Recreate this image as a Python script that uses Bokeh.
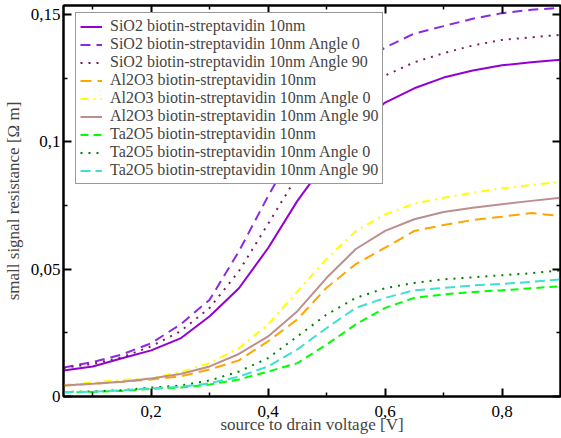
from bokeh.plotting import figure
from bokeh.models import (LinearAxis, FixedTicker, CustomJSTickFormatter, Legend, LegendItem)
from bokeh.embed import file_html
from bokeh.resources import INLINE

# ---------------- data ----------------
voltage = [0.05, 0.1, 0.15, 0.2, 0.25, 0.3, 0.35, 0.4, 0.45, 0.5, 0.55, 0.6,
           0.65, 0.7, 0.75, 0.8, 0.85, 0.9]

sio2 = [0.0102, 0.0118, 0.0150, 0.0181, 0.0228, 0.0315, 0.0425, 0.0583, 0.0768,
        0.0925, 0.1050, 0.1154, 0.1210, 0.1252, 0.1280, 0.1300, 0.1312, 0.1322]
sio2_a0 = [0.0114, 0.0135, 0.0165, 0.0209, 0.0283, 0.0380, 0.0570, 0.0787, 0.0990,
           0.1170, 0.1290, 0.1370, 0.1425, 0.1454, 0.1483, 0.1505, 0.1518, 0.1526]
sio2_a90 = [0.0112, 0.0128, 0.0154, 0.0197, 0.0256, 0.0348, 0.0492, 0.0678, 0.0866,
            0.1030, 0.1180, 0.1260, 0.1312, 0.1348, 0.1378, 0.1400, 0.1410, 0.1420]
al2o3 = [0.0043, 0.0050, 0.0058, 0.0067, 0.0079, 0.0106, 0.0142, 0.0217, 0.0303,
         0.0427, 0.0520, 0.0584, 0.0650, 0.0673, 0.0693, 0.0706, 0.0720, 0.0709]
al2o3_a0 = [0.0045, 0.0055, 0.0065, 0.0072, 0.0096, 0.0131, 0.0190, 0.0283, 0.0413,
            0.0540, 0.0650, 0.0715, 0.0757, 0.0780, 0.0800, 0.0818, 0.0830, 0.0843]
al2o3_a90 = [0.0043, 0.0050, 0.0058, 0.0071, 0.0088, 0.0118, 0.0167, 0.0236, 0.0335,
             0.0466, 0.0579, 0.0650, 0.0696, 0.0724, 0.0741, 0.0755, 0.0768, 0.0780]
ta2o5 = [0.0016, 0.0018, 0.0022, 0.0030, 0.0035, 0.0047, 0.0067, 0.0098, 0.0131,
         0.0204, 0.0283, 0.0348, 0.0387, 0.0401, 0.0410, 0.0417, 0.0425, 0.0433]
ta2o5_a0 = [0.0018, 0.0020, 0.0025, 0.0035, 0.0043, 0.0063, 0.0098, 0.0151, 0.0236,
            0.0322, 0.0387, 0.0425, 0.0446, 0.0460, 0.0468, 0.0476, 0.0484, 0.0495]
ta2o5_a90 = [0.0017, 0.0019, 0.0024, 0.0032, 0.0038, 0.0052, 0.0078, 0.0118, 0.0185,
             0.0269, 0.0348, 0.0387, 0.0417, 0.0426, 0.0436, 0.0442, 0.0450, 0.0460]

series_names = [
    "SiO2 biotin-streptavidin 10nm",
    "SiO2 biotin-streptavidin 10nm Angle 0",
    "SiO2 biotin-streptavidin 10nm Angle 90",
    "Al2O3 biotin-streptavidin 10nm",
    "Al2O3 biotin-streptavidin 10nm Angle 0",
    "Al2O3 biotin-streptavidin 10nm Angle 90",
    "Ta2O5 biotin-streptavidin 10nm",
    "Ta2O5 biotin-streptavidin 10nm Angle 0",
    "Ta2O5 biotin-streptavidin 10nm Angle 90",
]
series_values = [sio2, sio2_a0, sio2_a90, al2o3, al2o3_a0, al2o3_a90,
                 ta2o5, ta2o5_a0, ta2o5_a90]

x_ticks = [0.2, 0.4, 0.6, 0.8]
x_labels = ["0,2", "0,4", "0,6", "0,8"]
x_minor = [0.1, 0.3, 0.5, 0.7]
y_ticks = [0, 0.05, 0.1, 0.15]
y_labels = ["0", "0,05", "0,1", "0,15"]
y_minor = [0.025, 0.075, 0.125]

# ---------------- styles ----------------
colors = ["#9400D3", "#8A2BE2", "#7A1A5E", "#FFA500", "#FFFF00", "#BC8F8F",
          "#00FF00", "#008000", "#40E0D0"]
dashes = ["solid", "10 6", "2 6", "11 6", "8 5 2 5", "solid",
          "8 5", "2 6", "10 5"]

FONT = "Liberation Serif"

p = figure(width=561, height=436, x_range=(0.05, 0.9), y_range=(0, 0.1535),
           output_backend="svg", toolbar_location=None,
           min_border_left=0, min_border_right=1, min_border_top=5, min_border_bottom=0,
           x_axis_label="source to drain voltage [V]",
           y_axis_label="small signal resistance [Ω m]")
p.grid.visible = False
p.outline_line_color = "black"
p.outline_line_width = 2
p.background_fill_color = "white"
p.border_fill_color = "white"

items = []
for name, vals, col, dash in zip(series_names, series_values, colors, dashes):
    r = p.line(voltage, vals, line_color=col, line_width=2, line_dash=dash)
    items.append(LegendItem(label=name, renderers=[r]))

def fmt(tick_values, tick_texts):
    return CustomJSTickFormatter(args=dict(tv=tick_values, tl=tick_texts), code="""
        for (let i = 0; i < tv.length; i++) {
            if (Math.abs(tv[i] - tick) < 1e-9) return tl[i];
        }
        return '';
    """)

def style_axis(ax):
    ax.axis_line_width = 2
    ax.major_tick_in = 8
    ax.major_tick_out = 0
    ax.minor_tick_in = 4
    ax.minor_tick_out = 0
    ax.major_tick_line_width = 2
    ax.minor_tick_line_width = 1.5
    ax.major_label_text_font = FONT
    ax.axis_label_text_font = FONT
    ax.axis_label_text_font_style = "normal"
    ax.axis_label_text_font_size = "17px"
    ax.major_label_text_font_size = "17px"
    ax.major_label_text_color = "black"

xa = p.xaxis[0]
xa.ticker = FixedTicker(ticks=x_ticks, minor_ticks=x_minor)
xa.formatter = fmt(x_ticks, x_labels)
style_axis(xa)
xa.major_label_standoff = 9
xa.axis_label_standoff = -5

ya = p.yaxis[0]
ya.ticker = FixedTicker(ticks=y_ticks, minor_ticks=y_minor)
ya.formatter = fmt(y_ticks, y_labels)
style_axis(ya)
ya.major_label_standoff = 3
ya.axis_label_standoff = 5

# mirrored tick marks on top and right (no labels)
top = LinearAxis(ticker=FixedTicker(ticks=x_ticks, minor_ticks=x_minor))
style_axis(top)
top.major_label_text_font_size = "0px"
top.major_label_standoff = 0
top.axis_label_standoff = 0
top.major_label_text_alpha = 0
p.add_layout(top, "above")

right = LinearAxis(ticker=FixedTicker(ticks=y_ticks, minor_ticks=y_minor))
style_axis(right)
right.major_label_text_font_size = "0px"
right.major_label_standoff = 0
right.axis_label_standoff = 0
right.major_label_text_alpha = 0
p.add_layout(right, "right")

legend = Legend(items=items, location=(12, 212), margin=0, padding=4,
                spacing=0, label_standoff=8, glyph_width=22, glyph_height=17,
                label_height=17, label_text_font=FONT, label_text_font_size="16px",
                border_line_color="#333333", border_line_width=1,
                background_fill_alpha=1.0)
p.add_layout(legend)

open("out.html", "w").write(file_html(p, INLINE))
